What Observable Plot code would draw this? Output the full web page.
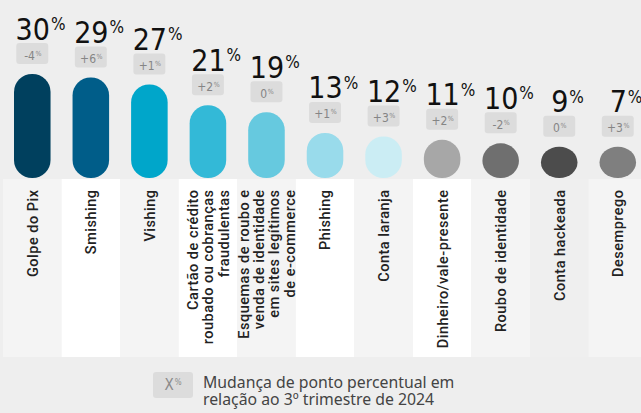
<!DOCTYPE html>
<html>
<head>
<meta charset="utf-8">
<script src="https://cdn.jsdelivr.net/npm/d3@7"></script>
<script src="https://cdn.jsdelivr.net/npm/@observablehq/plot@0.6"></script>
<style>
  html, body { margin: 0; padding: 0; background: #eeeeee; }
  #wrap { width: 641px; height: 413px; overflow: hidden; position: relative; background: #eeeeee; }
  #chart svg { display: block; }
  #legend { position: relative; height: 51px; }
  #legend .box { position: absolute; left: 153px; top: 10px; width: 40px; height: 26px; background: #dcdcdc; border-radius: 3px;
    font-family: 'Liberation Sans Narrow', 'DejaVu Sans Condensed', Roboto, sans-serif; font-size: 15px; color: #8a8a8a;
    text-align: center; line-height: 26px; }
  #legend .box sup { font-size: 8px; vertical-align: 0; position: relative; top: -5px; margin-left: 1px; }
  #legend .txt { position: absolute; left: 203px; font-family: 'Noto Sans', sans-serif; font-size: 15.8px;
    line-height: 17px; height: 17px; color: #444; white-space: nowrap; }
</style>
</head>
<body>
<div id="wrap">
  <div id="chart"></div>
  <div id="legend">
    <div class="box">X<sup>%</sup></div>
    <div class="txt" style="top:12px">Mudança de ponto percentual em</div>
    <div class="txt" style="top:29px">relação ao 3º trimestre de 2024</div>
  </div>
</div>
<script>
// ---- data ----
const categories = [
  "Golpe do Pix",
  "Smishing",
  "Vishing",
  "Cartão de crédito\nroubado ou cobranças\nfraudulentas",
  "Esquemas de roubo e\nvenda de identidade\nem sites legítimos\nde e-commerce",
  "Phishing",
  "Conta laranja",
  "Dinheiro/vale-presente",
  "Roubo de identidade",
  "Conta hackeada",
  "Desemprego"
];
const values = [30, 29, 27, 21, 19, 13, 12, 11, 10, 9, 7];
const changes = [-4, 6, 1, 2, 0, 1, 3, 2, -2, 0, 3];
const barColors = ["#00405e", "#005d89", "#00a6ca", "#33b9d7", "#66c9df", "#99dbeb", "#cbedf4",
                   "#a7a7a7", "#6f6f6f", "#4c4c4c", "#7f7f7f"];
const panelColors = ["#f4f4f4", "#ffffff", "#f4f4f4", "#ffffff", "#f4f4f4", "#ffffff", "#f4f4f4",
                     "#ffffff", "#f4f4f4", "#efefef", "#f4f4f4"];

const rows = categories.map((c, i) => ({
  category: c, value: values[i], change: changes[i], color: barColors[i], panel: panelColors[i]
}));

const minPill = 9; // pills never get shorter than a near-circle
const shown = d => Math.max(d.value, minPill);
const fmtChange = v => (v > 0 ? "+" + v : String(v));
const numFont = "'Liberation Sans Narrow', 'DejaVu Sans Condensed', Roboto, sans-serif";

const plot = Plot.plot({
  width: 641,
  height: 362,
  marginTop: 0, marginRight: 0, marginBottom: 184, marginLeft: 0,
  style: { background: "#eeeeee", overflow: "visible" },
  x: { type: "band", domain: categories, range: [3, 647.05], padding: 0, round: false, axis: null },
  y: { domain: [0, 30], range: [178, 74], axis: null },
  color: { type: "identity" },
  marks: [
    // label panels
    Plot.barY(rows, { x: "category", y1: 0, y2: 0, insetTop: 1, insetBottom: -179, fill: "panel" }),
    // pill bars
    Plot.barY(rows, { x: "category", y1: 0, y2: shown, fill: "color", insetLeft: 11, insetRight: 11, rx: 18 }),
    // change boxes
    Plot.barY(rows, { x: "category", y1: shown, y2: shown, insetTop: -31, insetBottom: 10,
      insetLeft: 13.3, insetRight: 13.3, rx: 3, fill: "#dcdcdc" }),
    Plot.text(rows, { x: "category", y: shown, text: d => fmtChange(d.change), dy: -15, lineAnchor: "bottom",
      fontSize: 12, fill: "#858585", fontFamily: numFont }),
    // value labels
    Plot.text(rows, { x: "category", y: shown, text: d => String(d.value), dy: -35, lineAnchor: "bottom",
      fontSize: 30, fill: "#111111", fontFamily: numFont }),
    // category labels
    Plot.text(rows, { x: "category", text: "category", frameAnchor: "bottom", dy: 11, rotate: -90,
      textAnchor: "end", lineAnchor: "middle", lineHeight: 1.05, fontSize: 14.5, fontWeight: 500,
      fill: "#222222", fontFamily: "Roboto, sans-serif" })
  ]
});

document.getElementById("chart").appendChild(plot);

const svg = d3.select(plot);
const groupBySize = s => svg.selectAll("g").filter(function () { return this.getAttribute("font-size") === String(s); });

groupBySize(30).selectAll("text").each(function () {
  const len = this.getComputedTextLength();
  d3.select(this).attr("x", -len / 2).attr("text-anchor", "start")
    .append("tspan").attr("font-size", 17).attr("dx", 1).attr("dy", -9.5).text("%");
});
groupBySize(12).selectAll("text").each(function () {
  d3.select(this).append("tspan").attr("font-size", 7).attr("dx", 0.5).attr("dy", -4).text("%");
});
groupBySize(14.5).style("letter-spacing", "0.5px");
</script>
</body>
</html>
